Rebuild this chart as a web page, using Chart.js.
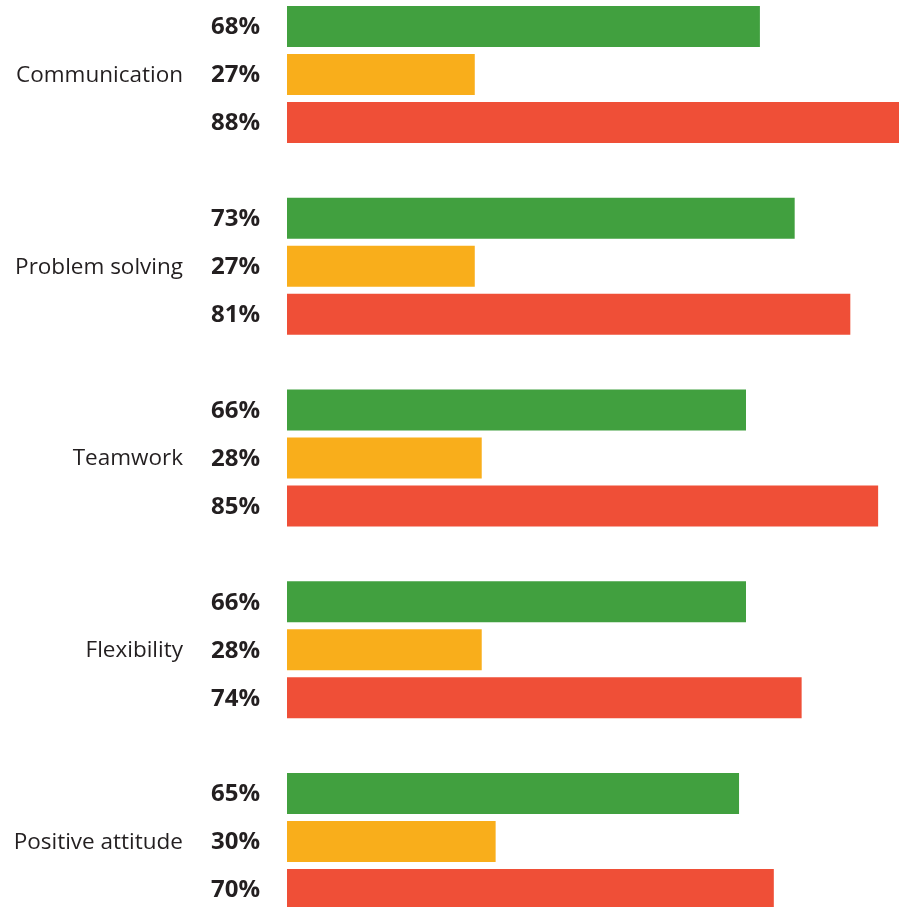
<!DOCTYPE html>
<html>
<head>
<meta charset="utf-8">
<script src="https://cdn.jsdelivr.net/npm/chart.js@4/dist/chart.umd.min.js"></script>
<style>
    html, body { margin: 0; padding: 0; background: #fff; }
    #wrap { width: 899px; height: 907px; position: relative; }
</style>
</head>
<body>
<div id="wrap"><canvas id="skills"></canvas></div>
<script>
// Skills survey - three groups per skill, values in percent
const skills = ["Communication", "Problem solving", "Teamwork", "Flexibility", "Positive attitude"]
const greenValues = [68, 73, 66, 66, 65]
const orangeValues = [27, 27, 28, 28, 30]
const redValues = [88, 81, 85, 74, 70]

const fontFamily = "'Open Sans', 'Noto Sans', sans-serif"
const textColor = "#231f20"

//Draws the percent next to each bar and the skill name to the left.
const labelPlugin = {
    id: "labels",
    afterDatasetsDraw(chart) {
        const ctx = chart.ctx
        ctx.save()
        ctx.fillStyle = textColor
        ctx.textAlign = "right"
        ctx.textBaseline = "middle"

        ctx.font = "bold 24px " + fontFamily
        chart.data.datasets.forEach((ds, i) => {
            chart.getDatasetMeta(i).data.forEach((bar, j) => {
                ctx.fillText(ds.data[j] + "%", 260, bar.y + 1)
            })
        })

        ctx.font = "22.5px " + fontFamily
        const yScale = chart.scales.y
        chart.data.labels.forEach((name, j) => {
            ctx.fillText(name, 183, yScale.getPixelForValue(j) + 1)
        })
        ctx.restore()
    }
}

const ctx = document.getElementById("skills").getContext("2d")
new Chart(ctx, {
    type: "bar",
    data: {
        labels: skills,
        datasets: [
            { data: greenValues, backgroundColor: "#41a03f" },
            { data: orangeValues, backgroundColor: "#f9ae1b" },
            { data: redValues, backgroundColor: "#ef4f37" }
        ]
    },
    options: {
        indexAxis: "y",
        responsive: true,
        maintainAspectRatio: false,
        animation: false,
        layout: { padding: { left: 287, right: 0, top: 74.5, bottom: 65.5 } },
        datasets: { bar: { categoryPercentage: 0.75, barPercentage: 0.855, clip: false } },
        plugins: { legend: { display: false }, tooltip: { enabled: false } },
        scales: {
            x: { display: false, min: 0, max: 88 },
            y: { display: false, offset: false }
        }
    },
    plugins: [labelPlugin]
})
</script>
</body>
</html>
